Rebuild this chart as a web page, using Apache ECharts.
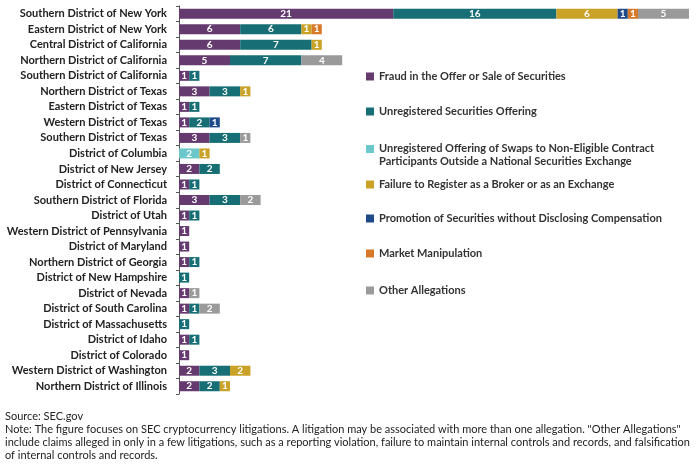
<!DOCTYPE html>
<html><head><meta charset="utf-8">
<script src="https://cdn.jsdelivr.net/npm/echarts@6/dist/echarts.min.js"></script>
<style>html,body{margin:0;padding:0;background:#fff}#c{width:700px;height:468px}</style>
</head><body><div id="c"></div>
<script>
const districts = [
 "Southern District of New York","Eastern District of New York","Central District of California","Northern District of California",
 "Southern District of California","Northern District of Texas","Eastern District of Texas","Western District of Texas",
 "Southern District of Texas","District of Columbia","District of New Jersey","District of Connecticut",
 "Southern District of Florida","District of Utah","Western District of Pennsylvania","District of Maryland",
 "Northern District of Georgia","District of New Hampshire","District of Nevada","District of South Carolina",
 "District of Massachusetts","District of Idaho","District of Colorado","Western District of Washington","Northern District of Illinois"
];
const seriesNames = [
 "Fraud in the Offer or Sale of Securities",
 "Unregistered Securities Offering",
 "Unregistered Offering of Swaps to Non-Eligible Contract Participants Outside a National Securities Exchange",
 "Failure to Register as a Broker or as an Exchange",
 "Promotion of Securities without Disclosing Compensation",
 "Market Manipulation",
 "Other Allegations"
];
const fraud        = [21,6,6,5,1,3,1,1,3,0,2,1,3,1,1,1,1,0,1,1,0,1,1,2,2];
const unregistered = [16,6,7,7,1,3,1,2,3,0,2,1,3,1,0,0,1,1,0,1,1,1,0,3,2];
const swaps        = [0,0,0,0,0,0,0,0,0,2,0,0,0,0,0,0,0,0,0,0,0,0,0,0,0];
const broker       = [6,1,1,0,0,1,0,0,0,1,0,0,0,0,0,0,0,0,0,0,0,0,0,2,1];
const promotion    = [1,0,0,0,0,0,0,1,0,0,0,0,0,0,0,0,0,0,0,0,0,0,0,0,0];
const manipulation = [1,1,0,0,0,0,0,0,0,0,0,0,0,0,0,0,0,0,0,0,0,0,0,0,0];
const other        = [5,0,0,4,0,0,0,0,1,0,0,0,2,0,0,0,0,0,1,2,0,0,0,0,0];
const allValues = [fraud,unregistered,swaps,broker,promotion,manipulation,other];
const colors = ["#653b6f","#176f75","#6bc7c9","#c9a227","#1e4a8a","#d8792a","#9a9a9a"];
const legendTops = [65,100,137,173,207,242,279];

const FONT = "Lato";
const chart = echarts.init(document.getElementById('c'), null, {renderer:'canvas'});
const series = allValues.map((vals,i)=>({
  name: seriesNames[i], type:'bar', stack:'total', barWidth:10,
  itemStyle:{color:colors[i]},
  label:{show:true, position:'inside', color:'#fff', fontFamily:FONT, fontWeight:'bold', fontSize:10,
    formatter:p=> p.value>0 ? p.value : ''},
  data: vals.map(v=> v>0 ? v : null)
}));
const legends = seriesNames.map((n,i)=>{
  const two = n.indexOf('Swaps')>=0;
  return {
    data:[n], orient:'vertical', left:361, top:legendTops[i], itemWidth:8, itemHeight: two?20:8,
    icon: two ? 'path://M0,0L8,0L8,8L0,8Z M0,20L0.01,20' : 'rect',
    selectedMode:false,
    formatter: name => two ? "Unregistered Offering of Swaps to Non-Eligible Contract\nParticipants Outside a National Securities Exchange" : name,
    textStyle:{fontFamily:FONT, fontWeight:'bold', fontSize:11, color:'#333', lineHeight:13}
  };
});
chart.setOption({
  animation:false,
  grid:{left:179, right:11, top:6, bottom:74, containLabel:false},
  xAxis:{type:'value', min:0, max:50, show:false},
  yAxis:{type:'category', inverse:true, data:districts,
    axisLine:{show:true, lineStyle:{color:'#555', width:1}},
    axisTick:{show:true, length:3, lineStyle:{color:'#555'}},
    axisLabel:{fontFamily:FONT, fontWeight:'bold', fontSize:11, color:'#222', margin:12}},
  legend: legends,
  series: series,
  graphic:[
    {type:'text', left:5, top:411, style:{text:'Source: SEC.gov', fontFamily:FONT, fontSize:11, fill:'#222'}},
    {type:'text', left:5, top:423, style:{text:'Note: The figure focuses on SEC cryptocurrency litigations. A litigation may be associated with more than one allegation. "Other Allegations"\ninclude claims alleged in only in a few litigations, such as a reporting violation, failure to maintain internal controls and records, and falsification\nof internal controls and records.', fontFamily:FONT, fontSize:11, fill:'#222', lineHeight:13}}
  ]
});
</script></body></html>
